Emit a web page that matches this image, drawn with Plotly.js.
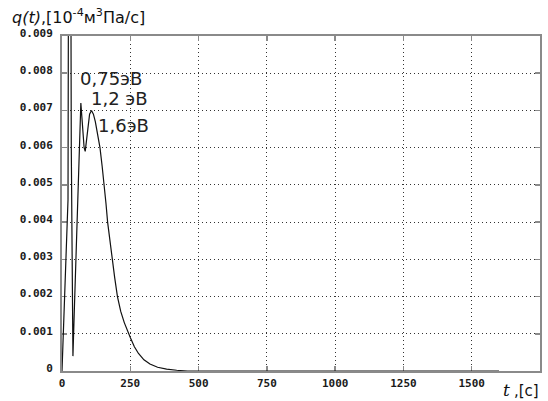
<!DOCTYPE html>
<html>
<head>
<meta charset="utf-8">
<script src="https://cdn.plot.ly/plotly-3.0.1.min.js"></script>
<style>html,body{margin:0;padding:0;background:#fff;}#chart{width:548px;height:401px;}</style>
</head>
<body>
<div id="chart"></div>
<script>
// time, s
const tValues = [0, 6, 12, 18, 22, 24, 28, 32, 34, 37, 40, 45, 50, 55, 60, 65, 69, 73, 77, 81, 85, 90, 95, 101, 108, 115, 122, 130, 139, 147, 155, 161, 167, 175, 183, 193, 203, 215, 228, 243, 250, 265, 280, 300, 322, 350, 383, 420, 460, 1000, 1600];
// q(t)
const qValues = [0, 0.0012, 0.0025, 0.0037, 0.0046, 0.012, 0.016, 0.012, 0.006, 0.0015, 0.0004, 0.0016, 0.0028, 0.004, 0.0052, 0.0063, 0.0072, 0.0068, 0.0063, 0.006, 0.0059, 0.0062, 0.0066, 0.0069, 0.0070, 0.0069, 0.0067, 0.0064, 0.006, 0.0055, 0.005, 0.0045, 0.004, 0.0035, 0.003, 0.0025, 0.002, 0.0016, 0.0013, 0.001, 0.0009, 0.00065, 0.00047, 0.0003, 0.00019, 0.0001, 0.00005, 0.00002, 0, 0, 0];

const xTicks = [0, 250, 500, 750, 1000, 1250, 1500, 1750];
const xTickText = ['0', '250', '500', '750', '1000', '1250', '1500', '1750'];
const yTicks = [0, 0.001, 0.002, 0.003, 0.004, 0.005, 0.006, 0.007, 0.008, 0.009];
const yTickText = ['0', '0.001', '0.002', '0.003', '0.004', '0.005', '0.006', '0.007', '0.008', '0.009'];

const peakLabels = ['0,75эВ', '1,2 эВ', '1,6эВ'];
const yTitle = '<i>q(t)</i>,[10<sup>-4</sup>м<sup>3</sup>Па/с]';
const xTitleVar = '<i>t</i>';
const xTitleUnit = ',[c]';

const tickFont = {family: 'DejaVu Sans Mono', size: 11, color: '#1a1a1a', weight: 'bold'};
const axisCommon = {
  showline: true, linecolor: '#8a8a8a', linewidth: 2, mirror: 'allticks',
  ticks: 'inside', ticklen: 5, tickwidth: 1.5, tickcolor: '#8a8a8a',
  showgrid: true, gridcolor: '#333', gridwidth: 1, griddash: '1px,3px',
  zeroline: false, tickfont: tickFont, layer: 'below traces', fixedrange: true
};

const data = [{
  x: tValues, y: qValues, type: 'scatter', mode: 'lines',
  line: {color: '#111', width: 1.2}, hoverinfo: 'skip'
}];

const layout = {
  width: 548, height: 401,
  margin: {l: 62, r: 8, t: 36, b: 30},
  paper_bgcolor: '#fff', plot_bgcolor: '#fff',
  showlegend: false,
  xaxis: Object.assign({}, axisCommon, {
    range: [0, 1750], tickmode: 'array', tickvals: xTicks, ticktext: xTickText, ticklabelstandoff: 1
  }),
  yaxis: Object.assign({}, axisCommon, {
    range: [0, 0.009], tickmode: 'array', tickvals: yTicks, ticktext: yTickText, ticklabelstandoff: 5, ticklabelshift: -3
  }),
  annotations: [
    {xref: 'paper', yref: 'paper', x: -0.109, y: 1.058, xanchor: 'left', yanchor: 'middle', showarrow: false,
     text: yTitle, font: {family: 'DejaVu Sans', size: 16, color: '#111'}},
    {xref: 'paper', yref: 'paper', x: 0.918, y: -0.056, xanchor: 'left', yanchor: 'middle', showarrow: false,
     text: xTitleVar, font: {family: 'DejaVu Serif', size: 17, color: '#111'}},
    {xref: 'paper', yref: 'paper', x: 0.941, y: -0.06, xanchor: 'left', yanchor: 'middle', showarrow: false,
     text: xTitleUnit, font: {family: 'DejaVu Sans', size: 15, color: '#111'}},
    {xref: 'x', yref: 'y', x: 57, y: 0.00785, xanchor: 'left', yanchor: 'middle', showarrow: false,
     text: peakLabels[0], font: {family: 'DejaVu Sans', size: 18, color: '#222'}},
    {xref: 'x', yref: 'y', x: 98, y: 0.00732, xanchor: 'left', yanchor: 'middle', showarrow: false,
     text: peakLabels[1], font: {family: 'DejaVu Sans', size: 18, color: '#222'}},
    {xref: 'x', yref: 'y', x: 126, y: 0.00660, xanchor: 'left', yanchor: 'middle', showarrow: false,
     text: peakLabels[2], font: {family: 'DejaVu Sans', size: 18, color: '#222'}}
  ]
};

Plotly.newPlot('chart', data, layout, {staticPlot: true, displayModeBar: false});
</script>
</body>
</html>
